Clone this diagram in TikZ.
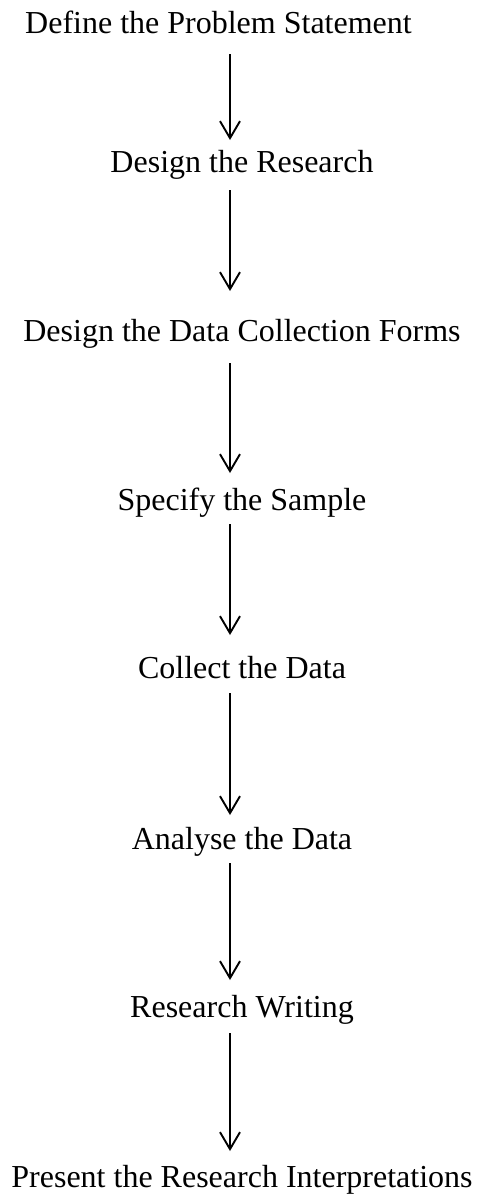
\documentclass[tikz,border=0pt]{standalone}
\usepackage{fontspec}
\setmainfont{Liberation Serif}
\usetikzlibrary{arrows.meta,calc}
\begin{document}
\begin{tikzpicture}[x=1pt,y=1pt,
  stage/.style={anchor=base,inner sep=0pt,font=\fontsize{32}{38}\selectfont},
  flow/.style={line width=1.9pt,-{Straight Barb[length=17pt,width=20pt,line width=1.9pt]}}]
\useasboundingbox (0,0) rectangle (477,-1194);
\coordinate (spine) at (230,0);

\node[stage] (s1) at (218.5,-33)  {Define the Problem Statement};
\node[stage] (s2) at (242,-172)   {Design the Research};
\node[stage] (s3) at (242,-341)   {Design the Data Collection Forms};
\node[stage] (s4) at (242,-510)   {Specify the Sample};
\node[stage] (s5) at (242,-678)   {Collect the Data};
\node[stage] (s6) at (242,-849)   {Analyse the Data};
\node[stage] (s7) at (242,-1017)  {Research Writing};
\node[stage] (s8) at (242,-1187)  {Present the Research Interpretations};

% vertical connectors, all on the same spine
\draw[flow] ($(s1.base -| spine)+(0,-21)$) -- ($(s2.base -| spine)+(0,32)$);
\draw[flow] ($(s2.base -| spine)+(0,-18)$) -- ($(s3.base -| spine)+(0,50)$);
\draw[flow] ($(s3.base -| spine)+(0,-22)$) -- ($(s4.base -| spine)+(0,37)$);
\draw[flow] ($(s4.base -| spine)+(0,-14)$) -- ($(s5.base -| spine)+(0,43)$);
\draw[flow] ($(s5.base -| spine)+(0,-15)$) -- ($(s6.base -| spine)+(0,34)$);
\draw[flow] ($(s6.base -| spine)+(0,-14)$) -- ($(s7.base -| spine)+(0,37)$);
\draw[flow] ($(s7.base -| spine)+(0,-16)$) -- ($(s8.base -| spine)+(0,36)$);
\end{tikzpicture}
\end{document}
